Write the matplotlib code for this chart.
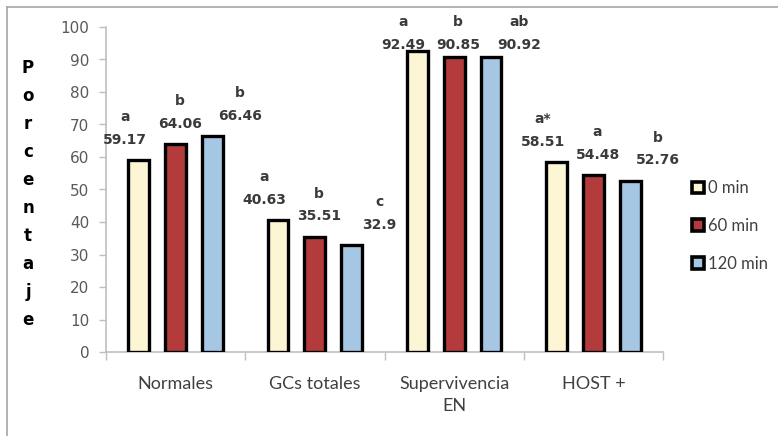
import matplotlib
matplotlib.use("Agg")
import matplotlib.pyplot as plt
import numpy as np
from matplotlib.lines import Line2D

plt.rcParams['font.family'] = ['Lato', 'DejaVu Sans']

categories = ["Normales", "GCs totales", "Supervivencia\nEN", "HOST +"]
series_names = ["0 min", "60 min", "120 min"]
values = {
    "0 min":   [59.17, 40.63, 92.49, 58.51],
    "60 min":  [64.06, 35.51, 90.85, 54.48],
    "120 min": [66.46, 32.90, 90.92, 52.76],
}
letters = {
    "0 min":   ["a", "a", "a", "a*"],
    "60 min":  ["b", "b", "b", "a"],
    "120 min": ["b", "c", "ab", "b"],
}
value_text = {
    "0 min":   ["59.17", "40.63", "92.49", "58.51"],
    "60 min":  ["64.06", "35.51", "90.85", "54.48"],
    "120 min": ["66.46", "32.9", "90.92", "52.76"],
}
colors = ["#FDF6D5", "#B33B3B", "#A6C7E3"]

fig = plt.figure(figsize=(7.78, 4.36), dpi=100)
ax = fig.add_axes([106/778, 1 - 352/436, (663-106)/778, (352-27)/436])

x = np.arange(len(categories))
offsets = [-0.265, 0.0, 0.265]
width = 0.15
grey = "#BFBFBF"
txt = "#404040"
lab = "#3A3A3A"
# labels are spread sideways (in points) so neighbouring ones do not collide
label_shift = [-10, 3, 20]

handles = []
for k, name in enumerate(series_names):
    bars = ax.bar(x + offsets[k], values[name], width, color=colors[k],
                  edgecolor="black", linewidth=2.4, zorder=3, label=name)
    handles.append(bars)
    for i, v in enumerate(values[name]):
        ny = min(v + 6.2, 94.6)
        for text, yy in ((value_text[name][i], ny), (letters[name][i], ny + 7.0)):
            ax.annotate(text, (x[i] + offsets[k], yy), xytext=(label_shift[k], 0),
                        textcoords="offset points", ha="center", va="center",
                        fontsize=10, fontweight="bold", family="DejaVu Sans",
                        color=lab, zorder=4, annotation_clip=False)

ax.set_xlim(-0.5, len(categories) - 0.5)
ax.set_ylim(0, 100)
ax.set_yticks(np.arange(0, 101, 10))
ax.tick_params(axis="y", labelsize=11, labelcolor="#595959", color=grey, length=5,
               width=1, pad=7)
for t in ax.get_yticklabels():
    t.set_family("DejaVu Sans")
ax.set_xticks(x)
ax.set_xticklabels(categories, fontsize=13, color=txt, linespacing=1.5)
ax.tick_params(axis="x", length=0, pad=17)
# category separators on the x axis
ax.set_xticks(np.arange(-0.5, len(categories), 1.0), minor=True)
ax.tick_params(axis="x", which="minor", length=6, color=grey, width=1)

for s in ["top", "right"]:
    ax.spines[s].set_visible(False)
for s in ["left", "bottom"]:
    ax.spines[s].set_color(grey)
    ax.spines[s].set_linewidth(1.2)

# vertical axis title, one letter per line
fig.text(28/778, 1 - 194/436, "\n".join("Porcentaje"), ha="center", va="center",
         fontsize=12, fontweight="bold", family="DejaVu Sans", linespacing=1.72,
         color="black")

leg = fig.legend(handles=handles, labels=series_names, loc="center left",
                 bbox_to_anchor=(684/778, 1 - 226/436), frameon=False,
                 fontsize=12, handlelength=0.7, handleheight=0.7,
                 handletextpad=0.25, labelspacing=1.3, borderpad=0)
for t in leg.get_texts():
    t.set_color(txt)
for h in leg.legend_handles:
    h.set_linewidth(2.6)

# outer frame lines
fig.add_artist(Line2D([7/778, 1], [1 - 7/436, 1 - 7/436], color="#A6A6A6", lw=1.2,
                      transform=fig.transFigure))
fig.add_artist(Line2D([7/778, 7/778], [0, 1 - 7/436], color="#A6A6A6", lw=1.2,
                      transform=fig.transFigure))

fig.savefig("out.png", dpi=100)
